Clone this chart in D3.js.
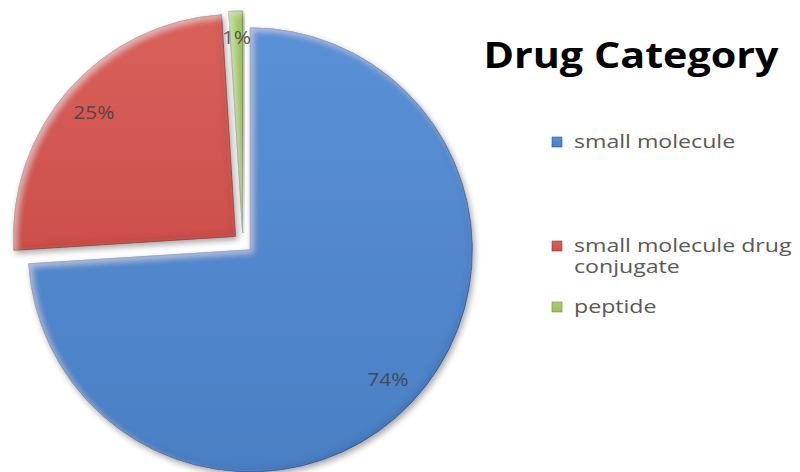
<!DOCTYPE html>
<html>
<head>
<meta charset="utf-8">
<script src="https://cdn.jsdelivr.net/npm/d3@7"></script>
<style>
  html, body { margin: 0; padding: 0; background: #fff; }
  svg { display: block; }
</style>
</head>
<body>
<svg id="chart" width="800" height="472"></svg>
<script>
// Drug category shares (percent)
const categories = ["small molecule", "small molecule drug conjugate", "peptide"];
const shares = [74, 25, 1];
const legendLines = [["small molecule"], ["small molecule drug", "conjugate"], ["peptide"]];
const colors = ["#4a7fc4", "#cd4f4a", "#9bbf59"];
const lightColors = ["#5a90d6", "#d9615b", "#abcf69"];
const darkColors = ["#2f5a94", "#9a3532", "#6f8d3a"];
const title = "Drug Category";

const svg = d3.select("#chart");
const W = 800, H = 472;

const defs = svg.append("defs");

// Bevel + soft drop shadow for the slices
const f = defs.append("filter").attr("id", "bevel")
  .attr("x", "-10%").attr("y", "-10%").attr("width", "125%").attr("height", "125%");
f.append("feGaussianBlur").attr("in", "SourceAlpha").attr("stdDeviation", 3).attr("result", "blur");
f.append("feOffset").attr("in", "blur").attr("dx", 3).attr("dy", 3).attr("result", "blurHi");
f.append("feComposite").attr("in", "SourceAlpha").attr("in2", "blurHi").attr("operator", "out").attr("result", "hiEdge");
f.append("feFlood").attr("flood-color", "#ffffff").attr("flood-opacity", 0.45).attr("result", "white");
f.append("feComposite").attr("in", "white").attr("in2", "hiEdge").attr("operator", "in").attr("result", "hi");
f.append("feOffset").attr("in", "blur").attr("dx", -2).attr("dy", -2).attr("result", "blurSh");
f.append("feComposite").attr("in", "SourceAlpha").attr("in2", "blurSh").attr("operator", "out").attr("result", "shEdge");
f.append("feFlood").attr("flood-color", "#000000").attr("flood-opacity", 0.25).attr("result", "black");
f.append("feComposite").attr("in", "black").attr("in2", "shEdge").attr("operator", "in").attr("result", "sh");
f.append("feGaussianBlur").attr("in", "SourceAlpha").attr("stdDeviation", 3).attr("result", "dsBlur");
f.append("feOffset").attr("in", "dsBlur").attr("dx", 2).attr("dy", 3).attr("result", "dsOff");
f.append("feComponentTransfer").attr("in", "dsOff").attr("result", "ds")
  .append("feFuncA").attr("type", "linear").attr("slope", 0.35);
const m = f.append("feMerge");
m.append("feMergeNode").attr("in", "ds");
m.append("feMergeNode").attr("in", "SourceGraphic");
m.append("feMergeNode").attr("in", "hi");
m.append("feMergeNode").attr("in", "sh");

// Vertical gradient per slice colour
colors.forEach((c, i) => {
  const g = defs.append("linearGradient").attr("id", "grad" + i)
    .attr("x1", 0).attr("y1", 0).attr("x2", 0).attr("y2", 1);
  g.append("stop").attr("offset", "0%").attr("stop-color", lightColors[i]);
  g.append("stop").attr("offset", "100%").attr("stop-color", c);
});

// Pie geometry
const cx = 243, cy = 243, R = 222, explode = 10;
const data = categories.map((c, i) => ({ name: c, value: shares[i], idx: i }));
const pie = d3.pie().value(d => d.value).sort(null);
const arcs = pie(data);
const arc = d3.arc().innerRadius(0).outerRadius(R);
const labelArc = d3.arc().innerRadius(0.85 * R).outerRadius(0.85 * R);

const gPie = svg.append("g").attr("transform", `translate(${cx},${cy})`);

const slice = gPie.selectAll("g.slice").data(arcs).join("g")
  .attr("class", "slice")
  .attr("transform", d => {
    const a = (d.startAngle + d.endAngle) / 2;
    return `translate(${explode * Math.sin(a)},${-explode * Math.cos(a)})`;
  });

slice.append("path")
  .attr("d", arc)
  .attr("fill", d => `url(#grad${d.data.idx})`)
  .attr("stroke", d => darkColors[d.data.idx])
  .attr("stroke-width", 1)
  .attr("stroke-linejoin", "round")
  .attr("filter", "url(#bevel)");

slice.append("text")
  .attr("transform", d => {
    const [x, y] = labelArc.centroid(d);
    // the thin slice's label sits a little further out
    const k = d.data.value < 5 ? 1.04 : 1;
    return `translate(${x * k},${y * k}) scale(1.1,1)`;
  })
  .attr("text-anchor", "middle")
  .attr("dominant-baseline", "central")
  .attr("font-family", "'Open Sans', sans-serif")
  .attr("font-size", 19)
  .attr("fill", "#404040")
  .attr("fill-opacity", 0.85)
  .text(d => d.data.value + "%");

// Title
svg.append("text")
  .attr("transform", "translate(631,68) scale(1.18,1)")
  .attr("text-anchor", "middle")
  .attr("font-family", "'Open Sans', sans-serif")
  .attr("font-weight", "bold")
  .attr("font-size", 35)
  .attr("fill", "#000")
  .text(title);

// Legend
const legendY = [148, 252, 313];
const legend = svg.append("g");
categories.forEach((c, i) => {
  const y = legendY[i];
  legend.append("rect")
    .attr("x", 552).attr("y", y - 11).attr("width", 10).attr("height", 10)
    .attr("fill", `url(#grad${i})`)
    .attr("stroke", darkColors[i]).attr("stroke-width", 0.6);
  const t = legend.append("g")
    .attr("transform", `translate(574,${y}) scale(1.25,1)`);
  legendLines[i].forEach((line, j) => {
    t.append("text")
      .attr("x", 0)
      .attr("y", j * 21)
      .attr("font-family", "'Open Sans', sans-serif")
      .attr("font-size", 18.5)
      .attr("fill", "#595959")
      .text(line);
  });
});
</script>
</body>
</html>
